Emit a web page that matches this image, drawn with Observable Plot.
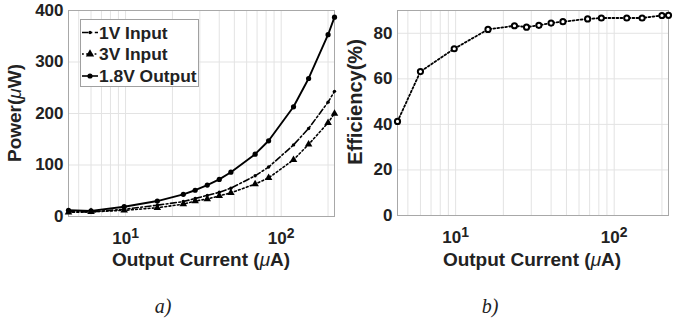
<!DOCTYPE html>
<html><head>
<meta charset="utf-8">
<script src="https://cdn.jsdelivr.net/npm/d3@7"></script>
<script src="https://cdn.jsdelivr.net/npm/@observablehq/plot@0.6"></script>
<style>
html,body{margin:0;padding:0;background:#fff;}
#wrap{width:684px;height:324px;display:flex;overflow:hidden;}
#wrap svg{display:block;}
</style>
</head><body><div id="wrap"></div>
<script>
// ---- data ----
const current = [4.3, 6, 9.8, 16, 23.5, 28, 33.5, 40, 47.5, 68, 83, 120, 150, 200, 220];
const power1VInput = [9, 9, 14, 22, 29, 35, 41, 47, 55, 79, 96, 139, 171, 222, 243];
const power3VInput = [8, 9, 12, 17, 24, 30, 34, 40, 46, 63, 75, 110, 140, 182, 200];
const power18VOutput = [12, 11, 19, 30, 43, 51, 61, 72, 86, 121, 147, 213, 268, 353, 387];
const efficiency = [41.3, 63.2, 73.2, 81.7, 83.3, 82.7, 83.5, 84.5, 85.1, 86.3, 86.7, 86.7, 86.7, 87.8, 87.9];
const seriesNames = ["1V Input", "3V Input", "1.8V Output"];
const powerTicks = [0, 100, 200, 300, 400];
const effTicks = [0, 20, 40, 60, 80];
const decadeTicks = [10, 100];
const minorGrid = [5, 6, 7, 8, 9, 10, 20, 30, 40, 50, 60, 70, 80, 90, 100, 200];
const panelLabels = ["a)", "b)"];

const rows = (ys) => current.map((c, i) => ({c, v: ys[i]}));
const r1 = rows(power1VInput), r3 = rows(power3VInput), r18 = rows(power18VOutput), rE = rows(efficiency);

const FONT = "'Liberation Sans', Arial, sans-serif";
const TXT = "#222";
const GRID = {stroke: "#e3e3e3", strokeOpacity: 1, strokeWidth: 1};
const style = {fontFamily: FONT, fontSize: "17px", fontWeight: "bold", color: TXT, background: "white", overflow: "visible"};
const dash1V = "6,2.5,1.8,2.5", dot3V = "1.8,2.4", dotEff = "1.8,2.2";

function xAxis() {
  return Plot.axisX(decadeTicks, {tickSize: 0, tickPadding: 15, label: null, fontSize: 17, fontWeight: "bold",
    tickFormat: d => "10|" + Math.round(Math.log10(d))});
}
function supTicks(svg) {
  d3.select(svg).selectAll('g[aria-label="x-axis tick label"] text').each(function () {
    const [b, e] = this.textContent.split("|");
    this.textContent = "";
    d3.select(this).append("tspan").text(b);
    d3.select(this).append("tspan").attr("dy", "-0.42em").attr("font-size", "0.82em").text(e);
  });
}
function addText(svg, x, y, parts, opts = {}) {
  const t = d3.select(svg).append("text")
    .attr("transform", `translate(${x},${y})` + (opts.rotate ? " rotate(-90)" : ""))
    .attr("text-anchor", opts.anchor || "middle")
    .attr("font-family", opts.family || FONT)
    .attr("font-size", opts.size || 19)
    .attr("font-weight", opts.weight || "bold")
    .attr("font-style", opts.style || "normal")
    .attr("fill", TXT);
  parts.forEach(p => {
    if (typeof p === "string") t.append("tspan").text(p);
    else t.append("tspan").attr("font-style", "italic").attr("font-weight", "normal").text(p.mu);
  });
  return t;
}

// ---- panel a ----
const wA = 342, H = 324;
const plotA = Plot.plot({
  width: wA, height: H, marginLeft: 68, marginRight: 8, marginTop: 10, marginBottom: 108,
  style,
  x: {type: "log", domain: [current[0], current[current.length - 1]]},
  y: {domain: [0, 400]},
  marks: [
    Plot.gridX(minorGrid, GRID),
    Plot.gridY(powerTicks, GRID),
    Plot.frame({stroke: "#a8a8a8"}),
    Plot.line(r1, {x: "c", y: "v", stroke: "black", strokeWidth: 1.6, strokeDasharray: dash1V}),
    Plot.dot(r1, {x: "c", y: "v", r: 1.7, fill: "black"}),
    Plot.line(r3, {x: "c", y: "v", stroke: "black", strokeWidth: 1.6, strokeDasharray: dot3V}),
    Plot.dot(r3, {x: "c", y: "v", symbol: "triangle", r: 2.8, fill: "black"}),
    Plot.line(r18, {x: "c", y: "v", stroke: "black", strokeWidth: 1.9}),
    Plot.dot(r18, {x: "c", y: "v", r: 2.6, fill: "black"}),
    Plot.axisY(powerTicks, {tickSize: 0, tickPadding: 5, label: null, fontSize: 17, fontWeight: "bold"}),
    xAxis()
  ]
});
supTicks(plotA);
addText(plotA, 21, 113, ["Power(", {mu: "\u03bc"}, "W)"], {rotate: true});
addText(plotA, 201, 266, ["Output Current (", {mu: "\u03bc"}, "A)"]);
addText(plotA, 163, 313, [panelLabels[0]], {family: "'Liberation Serif', 'Times New Roman', serif", weight: "normal", style: "italic", size: 20});

// legend
{
  const g = d3.select(plotA).append("g");
  g.append("rect").attr("x", 80.5).attr("y", 19.5).attr("width", 118).attr("height", 67)
    .attr("fill", "white").attr("stroke", "#a0a0a0").attr("stroke-width", 1);
  const ys = [32.5, 54, 76];
  const dashes = [dash1V, dot3V, null];
  ys.forEach((y, i) => {
    const ln = g.append("line").attr("x1", 82).attr("x2", 98).attr("y1", y).attr("y2", y)
      .attr("stroke", "black").attr("stroke-width", 1.6);
    if (dashes[i]) ln.attr("stroke-dasharray", dashes[i]);
    const sym = i === 1 ? d3.symbolTriangle : d3.symbolCircle;
    const size = i === 0 ? 9 : (i === 1 ? 30 : 21);
    g.append("path").attr("d", d3.symbol(sym, size)()).attr("transform", `translate(90,${y})`).attr("fill", "black");
    g.append("text").attr("x", 99).attr("y", y + 6).attr("text-anchor", "start")
      .attr("font-family", FONT).attr("font-size", 17.4)
      .attr("font-weight", "bold").attr("fill", TXT).text(seriesNames[i]);
  });
}

// ---- panel b ----
const plotB = Plot.plot({
  width: 342, height: H, marginLeft: 55, marginRight: 16, marginTop: 10, marginBottom: 109,
  style,
  x: {type: "log", domain: [current[0], current[current.length - 1]]},
  y: {domain: [0, 90]},
  marks: [
    Plot.gridX(minorGrid, GRID),
    Plot.gridY(effTicks, GRID),
    Plot.frame({stroke: "#a8a8a8"}),
    Plot.line(rE, {x: "c", y: "v", stroke: "black", strokeWidth: 1.8, strokeDasharray: dotEff}),
    Plot.dot(rE, {x: "c", y: "v", r: 2.6, fill: "white", stroke: "black", strokeWidth: 2}),
    Plot.axisY(effTicks, {tickSize: 0, tickPadding: 5, label: null, fontSize: 17, fontWeight: "bold"}),
    xAxis()
  ]
});
supTicks(plotB);
addText(plotB, 20, 102, ["Efficiency(%)"], {rotate: true, size: 20});
addText(plotB, 190, 266, ["Output Current (", {mu: "\u03bc"}, "A)"]);
addText(plotB, 148, 313, [panelLabels[1]], {family: "'Liberation Serif', 'Times New Roman', serif", weight: "normal", style: "italic", size: 20});

document.getElementById("wrap").append(plotA, plotB);
</script>
</body></html>
